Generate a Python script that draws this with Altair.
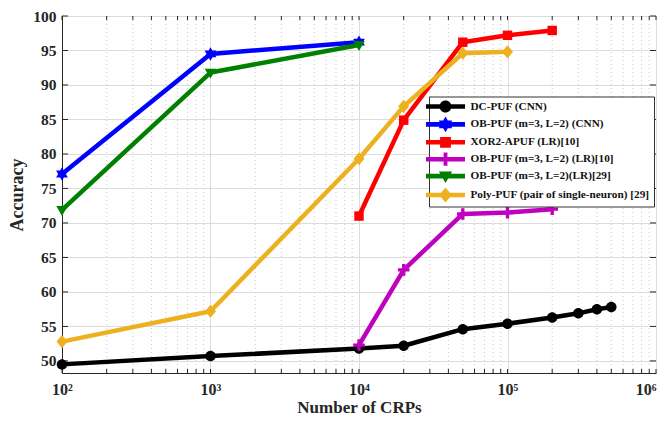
import altair as alt
import pandas as pd

# ---------------- data ----------------
series = [
    "DC-PUF (CNN)",
    "OB-PUF (m=3, L=2) (CNN)",
    "XOR2-APUF (LR)[10]",
    "OB-PUF (m=3, L=2) (LR)[10]",
    "OB-PUF (m=3, L=2)(LR)[29]",
    "Poly-PUF (pair of single-neuron) [29]",
]
colors = ["#000000", "#0000FF", "#FF0000", "#BF00BF", "#008000", "#EDB120"]

dc_x = [1e2, 1e3, 1e4, 2e4, 5e4, 1e5, 2e5, 3e5, 4e5, 5e5]
dc_y = [49.5, 50.7, 51.8, 52.2, 54.6, 55.4, 56.3, 56.9, 57.5, 57.8]
obcnn_x = [1e2, 1e3, 1e4]
obcnn_y = [77.1, 94.5, 96.2]
xor_x = [1e4, 2e4, 5e4, 1e5, 2e5]
xor_y = [71.0, 84.9, 96.2, 97.2, 97.9]
oblr10_x = [1e4, 2e4, 5e4, 1e5, 2e5]
oblr10_y = [52.3, 63.2, 71.3, 71.5, 72.0]
oblr29_x = [1e2, 1e3, 1e4]
oblr29_y = [71.9, 91.8, 95.8]
poly_x = [1e2, 1e3, 1e4, 2e4, 5e4, 1e5]
poly_y = [52.8, 57.2, 79.3, 86.9, 94.6, 94.8]

xs = [dc_x, obcnn_x, xor_x, oblr10_x, oblr29_x, poly_x]
ys = [dc_y, obcnn_y, xor_y, oblr10_y, oblr29_y, poly_y]

x_major = [1e2, 1e3, 1e4, 1e5, 1e6]
x_minor = [k * 10 ** e for e in range(2, 6) for k in range(2, 10)]
y_ticks = [50, 55, 60, 65, 70, 75, 80, 85, 90, 95, 100]

# ---------------- styles ----------------
W, H = 594, 357
FONT = "Liberation Serif"
AXC = "#262626"

marker_paths = [
    "M-1,0 A1,1 0 1,1 1,0 A1,1 0 1,1 -1,0 Z",
    "M0,-1.3 L1.126,0.65 L-1.126,0.65 Z M0,1.3 L-1.126,-0.65 L1.126,-0.65 Z",
    "M-0.9,-0.9 H0.9 V0.9 H-0.9 Z",
    "M-0.32,-1.1 H0.32 V-0.32 H1.1 V0.32 H0.32 V1.1 H-0.32 V0.32 H-1.1 V-0.32 H-0.32 Z",
    "M-1.1,-0.75 H1.1 L0,1.15 Z",
    "M0,-1.25 L1.05,0 L0,1.25 L-1.05,0 Z",
]
bar = "M-3.25,-0.38 H3.25 V0.38 H-3.25 Z "
legend_paths = [bar + p for p in marker_paths]

frames = []
for s, xv, yv in zip(series, xs, ys):
    frames.append(pd.DataFrame({"series": s, "crp": xv, "acc": yv}))
df = pd.concat(frames, ignore_index=True)

xscale = alt.Scale(type="log", domain=[1e2, 1e6], nice=False)
yscale = alt.Scale(domain=[48.25, 100], nice=False, zero=False)

label_expr = ("datum.value == 100 ? '10²' : datum.value == 1000 ? '10³' : "
              "datum.value == 10000 ? '10⁴' : datum.value == 100000 ? '10⁵' : '10⁶'")

x_axis = alt.Axis(values=x_major, labelExpr=label_expr, title="Number of CRPs",
                  grid=True, gridColor="#dcdcdc", gridWidth=1, ticks=False,
                  domainColor=AXC, domainWidth=1, labelFont=FONT, labelFontSize=16,
                  labelFontWeight="bold", labelColor=AXC, labelPadding=8,
                  labelAlign={"expr": "datum.value >= 1000000 ? 'right' : 'center'"},
                  titleFont=FONT, titleFontSize=17, titleFontWeight="bold",
                  titleColor=AXC, titlePadding=2, labelFlush=False)
y_axis = alt.Axis(values=y_ticks, title="Accuracy", grid=True, gridColor="#dcdcdc",
                  gridWidth=1, ticks=False, domainColor=AXC, domainWidth=1,
                  labelFont=FONT, labelFontSize=15.5, labelFontWeight="bold",
                  labelColor=AXC, labelPadding=6, labelOverlap=False,
                  titleFont=FONT, titleFontSize=18,
                  titleFontWeight="bold", titleColor=AXC, titlePadding=6)

minor_df = pd.DataFrame({"v": x_minor})
ytick_df = pd.DataFrame({"v": y_ticks})


def X(field):
    return alt.X(field, scale=xscale, axis=x_axis)


def Y(field):
    return alt.Y(field, scale=yscale, axis=y_axis)


minor_grid = alt.Chart(minor_df).mark_rule(
    color="#c8c8c8", strokeDash=[1, 3], strokeWidth=1
).encode(x=X("v:Q"))

xt_all = pd.DataFrame({"v": x_major + x_minor})
tick_bot = alt.Chart(xt_all).mark_rule(color=AXC, strokeWidth=1).encode(
    x=X("v:Q"), y=alt.value(H), y2=alt.value(H - 4))
tick_top = alt.Chart(xt_all).mark_rule(color=AXC, strokeWidth=1).encode(
    x=X("v:Q"), y=alt.value(0), y2=alt.value(4))
tick_l = alt.Chart(ytick_df).mark_rule(color=AXC, strokeWidth=1).encode(
    y=Y("v:Q"), x=alt.value(0), x2=alt.value(6))
tick_r = alt.Chart(ytick_df).mark_rule(color=AXC, strokeWidth=1).encode(
    y=Y("v:Q"), x=alt.value(W), x2=alt.value(W - 6))

layers = [minor_grid, tick_bot, tick_top, tick_l, tick_r]

for s, c, mp in zip(series, colors, marker_paths):
    sub = alt.Chart(df).transform_filter(alt.datum.series == s)
    layers.append(sub.mark_line(color=c, strokeWidth=4.5, strokeJoin="round").encode(
        x=X("crp:Q"), y=Y("acc:Q")))
    layers.append(sub.mark_point(shape=mp, filled=True, color=c, size=110, opacity=1).encode(
        x=X("crp:Q"), y=Y("acc:Q")))

legend = alt.Legend(
    title=None, orient="none", legendX=367, legendY=80.5,
    fillColor="white", strokeColor="#333333", padding=4,
    labelFont=FONT, labelFontSize=11.25, labelFontWeight="bold", labelColor="#111111",
    symbolSize=144, symbolStrokeWidth=0, symbolOpacity=1,
    symbolOffset=6.5, labelOffset=19, rowPadding=3.9, labelLimit=400,
)
leg_layer = alt.Chart(df).mark_point(filled=True, opacity=0).encode(
    x=X("crp:Q"), y=Y("acc:Q"),
    color=alt.Color("series:N", scale=alt.Scale(domain=series, range=colors), legend=legend),
    shape=alt.Shape("series:N", scale=alt.Scale(domain=series, range=legend_paths), legend=legend),
)
layers.append(leg_layer)

chart = alt.layer(*layers).properties(
    width=W, height=H,
    autosize=alt.AutoSizeParams(type="none"),
    padding={"left": 54, "top": 8, "right": 3, "bottom": 46},
).configure_view(stroke=AXC, strokeWidth=1).configure(background="white")

chart.save("out.html", embed_options={"renderer": "svg", "actions": False})
